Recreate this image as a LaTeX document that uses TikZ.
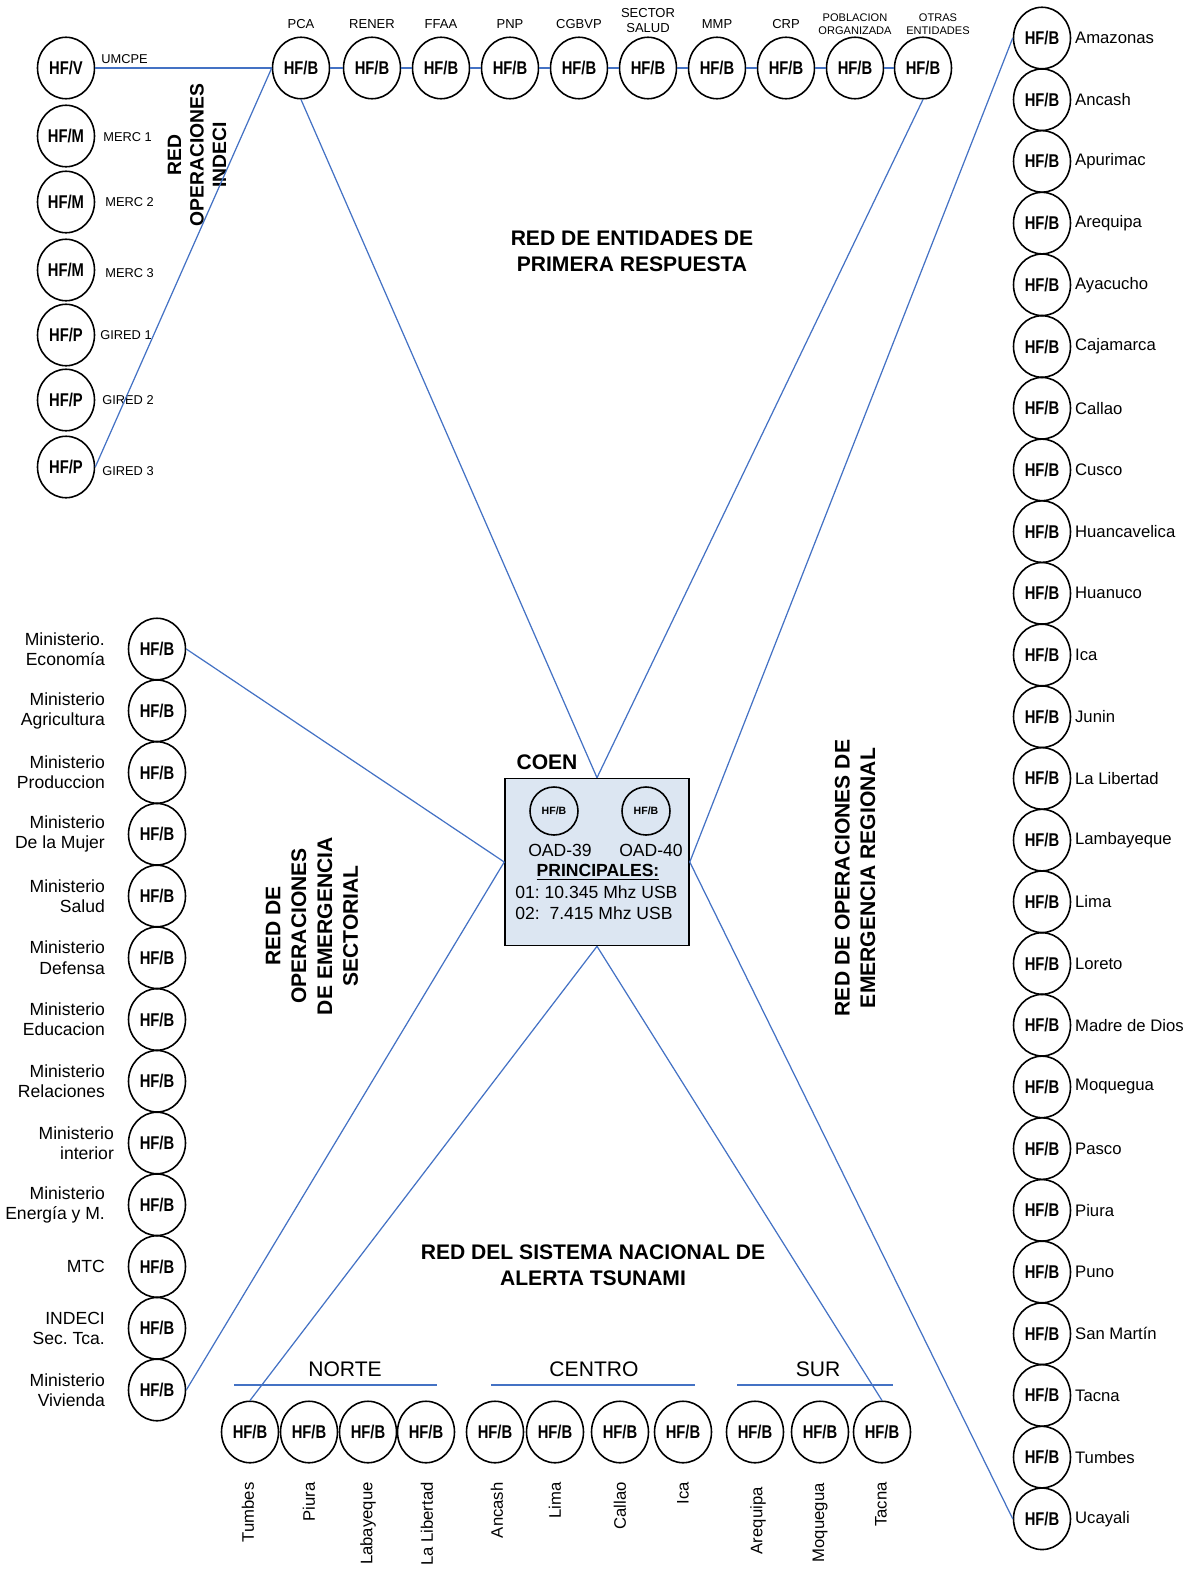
\documentclass[tikz,border=0pt]{standalone}
\usepackage{fontspec}
\setmainfont{Liberation Sans}
\newfontfamily\hffont{Liberation Sans}[FakeStretch=0.8]
\usepackage{tikz}
\usetikzlibrary{shapes.geometric}
\definecolor{linkblue}{RGB}{68,114,196}
\definecolor{coenfill}{RGB}{220,230,242}
\frenchspacing

\begin{document}
\begin{tikzpicture}[x=0.02cm,y=-0.02cm,
  hf/.style={ellipse,draw,line width=0.9pt,minimum width=1.14cm,minimum height=1.23cm,inner sep=0pt,font=\hffont\bfseries\fontsize{10.5}{12}\selectfont},
  hfs/.style={circle,draw,line width=0.9pt,minimum size=0.96cm,inner sep=0pt,font=\bfseries\fontsize{6}{7}\selectfont},
  link/.style={draw=linkblue,line width=0.7pt},
  slab/.style={font=\fontsize{7.3}{8.5}\selectfont,inner sep=0pt,anchor=west},
  tlab/.style={font=\fontsize{7.4}{8.5}\selectfont,inner sep=0pt,align=center,yshift=0.15cm},
  tlabs/.style={font=\fontsize{6.3}{7.4}\selectfont,inner sep=0pt,align=center,yshift=0.03cm},
  rlab/.style={font=\fontsize{9.5}{11}\selectfont,inner sep=0pt,xshift=0.07cm},
  llab/.style={font=\fontsize{10}{11.6}\selectfont,inner sep=0pt,align=right,xshift=-0.45cm},
  blab/.style={font=\fontsize{9.5}{11}\selectfont,inner sep=0pt,rotate=90,anchor=east},
  ctxt/.style={font=\fontsize{10}{12}\selectfont,inner sep=0pt},
  title/.style={font=\bfseries\fontsize{12}{14.5}\selectfont,align=center,inner sep=0pt},
  zone/.style={font=\fontsize{12}{14}\selectfont,inner sep=0pt}]
\useasboundingbox (0,0) rectangle (1194,1569);

\node[hf] (v1) at (66,68) {HF/V};
\node[hf] (m1) at (66,136) {HF/M};
\node[hf] (m2) at (66,202) {HF/M};
\node[hf] (m3) at (66,270) {HF/M};
\node[hf] (p1) at (66,335) {HF/P};
\node[hf] (p2) at (66,400) {HF/P};
\node[hf] (p3) at (66,467) {HF/P};
\node[slab] (lumcpe) at (101,59) {UMCPE};
\node[slab] (lmerc1) at (103,137) {MERC 1};
\node[slab] (lmerc2) at (105,202) {MERC 2};
\node[slab] (lmerc3) at (105,273) {MERC 3};
\node[slab] (lgired1) at (100,335) {GIRED 1};
\node[slab] (lgired2) at (102,400) {GIRED 2};
\node[slab] (lgired3) at (102,471) {GIRED 3};

\node[hf,label={[tlab]above:PCA}] (pca) at (301,68) {HF/B};
\node[hf,label={[tlab]above:RENER}] (rener) at (372,68) {HF/B};
\node[hf,label={[tlab]above:FFAA}] (ffaa) at (441,68) {HF/B};
\node[hf,label={[tlab]above:PNP}] (pnp) at (510,68) {HF/B};
\node[hf,label={[tlab]above:CGBVP}] (cgbvp) at (579,68) {HF/B};
\node[hf,label={[tlab,yshift=-0.08cm]above:{SECTOR\\SALUD}}] (salud) at (648,68) {HF/B};
\node[hf,label={[tlab]above:MMP}] (mmp) at (717,68) {HF/B};
\node[hf,label={[tlab]above:CRP}] (crp) at (786,68) {HF/B};
\node[hf,label={[tlabs]above:{POBLACION\\ORGANIZADA}}] (pob) at (855,68) {HF/B};
\node[hf,label={[tlabs,xshift=0.3cm]above:{OTRAS\\ENTIDADES}}] (otras) at (923,68) {HF/B};

\node[hf,label={[llab]west:{Ministerio.\\Economía}}] (eco) at (157,649) {HF/B};
\node[hf,label={[llab]west:{Ministerio\\Agricultura}}] (agr) at (157,710.75) {HF/B};
\node[hf,label={[llab]west:{Ministerio\\Produccion}}] (pro) at (157,772.5) {HF/B};
\node[hf,label={[llab]west:{Ministerio\\De la Mujer}}] (muj) at (157,834.25) {HF/B};
\node[hf,label={[llab]west:{Ministerio\\Salud}}] (sal) at (157,896) {HF/B};
\node[hf,label={[llab]west:{Ministerio\\Defensa}}] (def) at (157,957.75) {HF/B};
\node[hf,label={[llab]west:{Ministerio\\Educacion}}] (edu) at (157,1019.5) {HF/B};
\node[hf,label={[llab]west:{Ministerio\\Relaciones}}] (rel) at (157,1081.25) {HF/B};
\node[hf,label={[llab,xshift=0.18cm]west:{Ministerio\\interior}}] (int) at (157,1143) {HF/B};
\node[hf,label={[llab]west:{Ministerio\\Energía y M.}}] (ene) at (157,1204.75) {HF/B};
\node[hf,label={[llab]west:MTC}] (mtc) at (157,1266.5) {HF/B};
\node[hf,label={[llab]west:{INDECI\\Sec. Tca.}}] (ind) at (157,1328.25) {HF/B};
\node[hf,label={[llab]west:{Ministerio\\Vivienda}}] (viv) at (157,1390) {HF/B};

\node[hf,label={[rlab]east:Amazonas}] (rama) at (1042,38) {HF/B};
\node[hf,label={[rlab]east:Ancash}] (ranc) at (1042,99.7) {HF/B};
\node[hf,label={[rlab]east:Apurimac}] (rapu) at (1042,161.4) {HF/B};
\node[hf,label={[rlab]east:Arequipa}] (rare) at (1042,223.1) {HF/B};
\node[hf,label={[rlab]east:Ayacucho}] (raya) at (1042,284.8) {HF/B};
\node[hf,label={[rlab]east:Cajamarca}] (rcaj) at (1042,346.5) {HF/B};
\node[hf,label={[rlab]east:Callao}] (rcal) at (1042,408.2) {HF/B};
\node[hf,label={[rlab]east:Cusco}] (rcus) at (1042,469.9) {HF/B};
\node[hf,label={[rlab]east:Huancavelica}] (rhcv) at (1042,531.6) {HF/B};
\node[hf,label={[rlab]east:Huanuco}] (rhco) at (1042,593.3) {HF/B};
\node[hf,label={[rlab]east:Ica}] (rica) at (1042,655) {HF/B};
\node[hf,label={[rlab]east:Junin}] (rjun) at (1042,716.7) {HF/B};
\node[hf,label={[rlab]east:La Libertad}] (rlib) at (1042,778.4) {HF/B};
\node[hf,label={[rlab]east:Lambayeque}] (rlam) at (1042,840.1) {HF/B};
\node[hf,label={[rlab]east:Lima}] (rlim) at (1042,901.8) {HF/B};
\node[hf,label={[rlab]east:Loreto}] (rlor) at (1042,963.5) {HF/B};
\node[hf,label={[rlab]east:Madre de Dios}] (rmad) at (1042,1025.2) {HF/B};
\node[hf,label={[rlab]east:Moquegua}] (rmoq) at (1042,1086.9) {HF/B};
\node[hf,label={[rlab]east:Pasco}] (rpas) at (1042,1148.6) {HF/B};
\node[hf,label={[rlab]east:Piura}] (rpiu) at (1042,1210.3) {HF/B};
\node[hf,label={[rlab]east:Puno}] (rpun) at (1042,1272) {HF/B};
\node[hf,label={[rlab]east:San Martín}] (rsan) at (1042,1333.7) {HF/B};
\node[hf,label={[rlab]east:Tacna}] (rtac) at (1042,1395.4) {HF/B};
\node[hf,label={[rlab]east:Tumbes}] (rtum) at (1042,1457.1) {HF/B};
\node[hf,label={[rlab]east:Ucayali}] (ruca) at (1042,1518.8) {HF/B};

\node[hf] (btum) at (250,1432) {HF/B};
\node[hf] (bpiu) at (309,1432) {HF/B};
\node[hf] (blam) at (368,1432) {HF/B};
\node[hf] (blib) at (426,1432) {HF/B};
\node[hf] (banc) at (495,1432) {HF/B};
\node[hf] (blim) at (555,1432) {HF/B};
\node[hf] (bcal) at (620,1432) {HF/B};
\node[hf] (bica) at (683,1432) {HF/B};
\node[hf] (bare) at (755,1432) {HF/B};
\node[hf] (bmoq) at (820,1432) {HF/B};
\node[hf] (btac) at (882,1432) {HF/B};
\node[blab] (ltum) at (248,1482) {Tumbes};
\node[blab] (lpiu) at (309,1482) {Piura};
\node[blab] (llam) at (368,1482) {Labayeque};
\node[blab] (llib) at (427,1482) {La Libertad};
\node[blab] (lanc) at (497,1482) {Ancash};
\node[blab] (llim) at (555,1482) {Lima};
\node[blab] (lcal) at (620,1482) {Callao};
\node[blab] (lica) at (683,1482) {Ica};
\node[blab] (lare) at (758,1487) {Arequipa};
\node[blab] (lmoq) at (820,1483) {Moquegua};
\node[blab] (ltac) at (881,1482) {Tacna};
\node[zone] (norte) at (345,1369) {NORTE};
\node[zone] (centro) at (594,1369) {CENTRO};
\node[zone] (sur) at (818,1369) {SUR};
\draw[link] (234,1385) -- (437,1385);
\draw[link] (491,1385) -- (695,1385);
\draw[link] (737,1385) -- (893,1385);

\node[draw,fill=coenfill,line width=0.9pt,minimum width=3.68cm,minimum height=3.34cm,inner sep=0pt] (coen) at (597,862) {};
\node[font=\bfseries\fontsize{12}{14}\selectfont,inner sep=0pt] (lcoen) at (547,762) {COEN};
\node[hfs] (oad39) at (554,811) {HF/B};
\node[hfs] (oad40) at (646,811) {HF/B};
\node[ctxt] (l39) at (560,850) {OAD-39};
\node[ctxt] (l40) at (651,850) {OAD-40};
\node[ctxt,font=\bfseries\fontsize{10}{12}\selectfont] (lprin) at (598,872) {\underline{PRINCIPALES:}};
\node[ctxt,font=\fontsize{10}{12}\selectfont,align=left,anchor=west] (lfreq) at (515,903) {01: 10.345 Mhz USB\\02:\ \ 7.415 Mhz USB};

\node[title,rotate=90,font=\bfseries\fontsize{11}{12.8}\selectfont] (tindeci) at (197,155) {RED\\OPERACIONES\\INDECI};
\node[title] (tprimera) at (632,251) {RED DE ENTIDADES DE\\PRIMERA RESPUESTA};
\node[title,rotate=90,font=\bfseries\fontsize{12}{14.7}\selectfont] (tsector) at (312,926) {RED DE\\OPERACIONES\\DE EMERGENCIA\\SECTORIAL};
\node[title,rotate=90] (tregion) at (855,878) {RED DE OPERACIONES DE\\EMERGENCIA REGIONAL};
\node[title] (ttsunami) at (593,1265) {RED DEL SISTEMA NACIONAL DE\\ALERTA TSUNAMI};

\draw[link] (v1) -- (pca);
\draw[link] (pca) -- (rener) (rener) -- (ffaa) (ffaa) -- (pnp) (pnp) -- (cgbvp) (cgbvp) -- (salud);
\draw[link] (salud) -- (mmp) (mmp) -- (crp) (crp) -- (pob) (pob) -- (otras);
\draw[link] (p3.east) -- (pca.west);
\draw[link] (pca.south) -- (coen.north);
\draw[link] (otras.south) -- (coen.north);
\draw[link] (eco.east) -- (coen.west);
\draw[link] (viv.east) -- (coen.west);
\draw[link] (rama.west) -- (coen.east);
\draw[link] (ruca.west) -- (coen.east);
\draw[link] (coen.south) -- (btum.north);
\draw[link] (coen.south) -- (btac.north);
\end{tikzpicture}
\end{document}
